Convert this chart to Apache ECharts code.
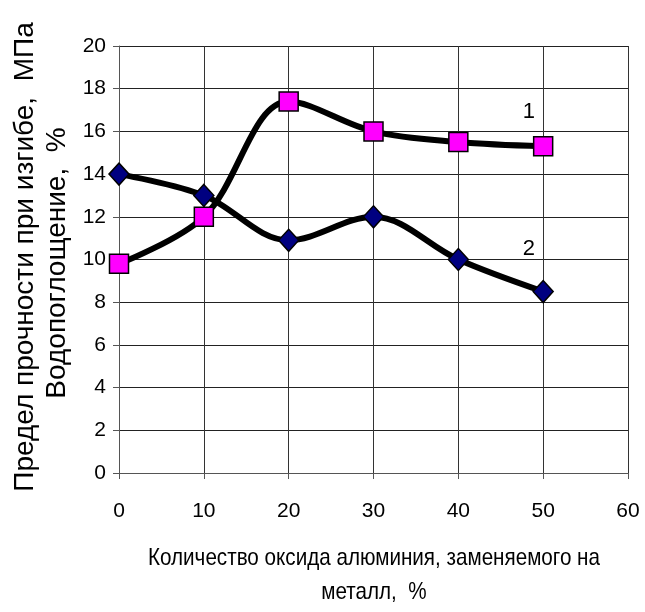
<!DOCTYPE html>
<html>
<head>
<meta charset="utf-8">
<style>
  html, body { margin: 0; padding: 0; background: #fff; }
  #chart { width: 645px; height: 612px; }
</style>
<script src="https://cdn.jsdelivr.net/npm/echarts@6/dist/echarts.min.js"></script>
</head>
<body>
<div id="chart"></div>
<script>
// Share of aluminium oxide replaced by metal, %
const xValues = [0, 10, 20, 30, 40, 50];
// Curve 1: flexural strength, MPa
const strength = [9.8, 12.0, 17.4, 16.0, 15.5, 15.3];
// Curve 2: water absorption, %
const absorption = [14.0, 13.0, 10.9, 12.0, 10.0, 8.5];
// Curve tags and where they sit on the axes
const curveTags = ['1', '2'];
const tagCoords = [[48.3, 16.9], [48.3, 10.5]];

const yTitle1 = 'Предел прочности при изгибе,  МПа';
const yTitle2 = 'Водопоглощение,  %';
const xTitle1 = 'Количество оксида алюминия, заменяемого на';
const xTitle2 = 'металл,  %';

const FONT = '"Liberation Sans", Arial, sans-serif';

// The x-axis title is set in a condensed face: squeeze the regular one to fit.
const X_TITLE_SIZE = 24;
const X_TITLE_WIDTH = 452;
const ctx = document.createElement('canvas').getContext('2d');
ctx.font = X_TITLE_SIZE + 'px ' + FONT;
const squeeze = X_TITLE_WIDTH / ctx.measureText(xTitle1).width;

const chart = echarts.init(document.getElementById('chart'), null, { renderer: 'canvas' });

function pairs(ys) { return xValues.map((x, i) => [x, ys[i]]); }

chart.setOption({
  animation: false,
  backgroundColor: '#fff',
  grid: { left: 119, top: 46, width: 509, height: 427, containLabel: false },
  xAxis: {
    type: 'value', min: 0, max: 60, interval: 10,
    axisLine: { show: true, lineStyle: { color: '#555', width: 1 } },
    axisTick: { show: true, inside: false, length: 6, lineStyle: { color: '#555' } },
    axisLabel: { fontFamily: FONT, fontSize: 21, color: '#000', margin: 28 },
    splitLine: { show: true, lineStyle: { color: '#333', width: 1 } }
  },
  yAxis: {
    type: 'value', min: 0, max: 20, interval: 2,
    axisLine: { show: true, lineStyle: { color: '#555', width: 1 } },
    axisTick: { show: true, inside: false, length: 6, lineStyle: { color: '#555' } },
    axisLabel: { fontFamily: FONT, fontSize: 21, color: '#000', margin: 13 },
    splitLine: { show: true, lineStyle: { color: '#222', width: 1 } }
  },
  graphic: [
    { type: 'text', x: 25, y: 257, rotation: Math.PI / 2,
      style: { text: yTitle1, fontFamily: FONT, fontSize: 28, fill: '#000', align: 'center', verticalAlign: 'middle' } },
    { type: 'text', x: 57, y: 263, rotation: Math.PI / 2,
      style: { text: yTitle2, fontFamily: FONT, fontSize: 28, fill: '#000', align: 'center', verticalAlign: 'middle' } },
    { type: 'text', x: 374, y: 558, scaleX: squeeze,
      style: { text: xTitle1, fontFamily: FONT, fontSize: X_TITLE_SIZE, fill: '#000', align: 'center', verticalAlign: 'middle' } },
    { type: 'text', x: 374, y: 592, scaleX: squeeze,
      style: { text: xTitle2, fontFamily: FONT, fontSize: X_TITLE_SIZE, fill: '#000', align: 'center', verticalAlign: 'middle' } }
  ],
  series: [
    {
      type: 'line', data: pairs(strength), smooth: 0.35, z: 3,
      lineStyle: { color: '#000', width: 6 },
      symbol: 'rect', symbolSize: 19,
      itemStyle: { color: '#ff00ff', borderColor: '#000', borderWidth: 1.5 },
      markPoint: {
        symbol: 'circle', symbolSize: 0,
        data: [{ coord: tagCoords[0], value: curveTags[0] }],
        label: { show: true, formatter: curveTags[0], fontFamily: FONT, fontSize: 22, color: '#000', position: 'inside' }
      }
    },
    {
      type: 'line', data: pairs(absorption), smooth: 0.35, z: 2,
      lineStyle: { color: '#000', width: 6 },
      symbol: 'diamond', symbolSize: [20, 22],
      itemStyle: { color: '#000080', borderColor: '#000', borderWidth: 1.5 },
      markPoint: {
        symbol: 'circle', symbolSize: 0,
        data: [{ coord: tagCoords[1], value: curveTags[1] }],
        label: { show: true, formatter: curveTags[1], fontFamily: FONT, fontSize: 22, color: '#000', position: 'inside' }
      }
    }
  ]
});
</script>
</body>
</html>
